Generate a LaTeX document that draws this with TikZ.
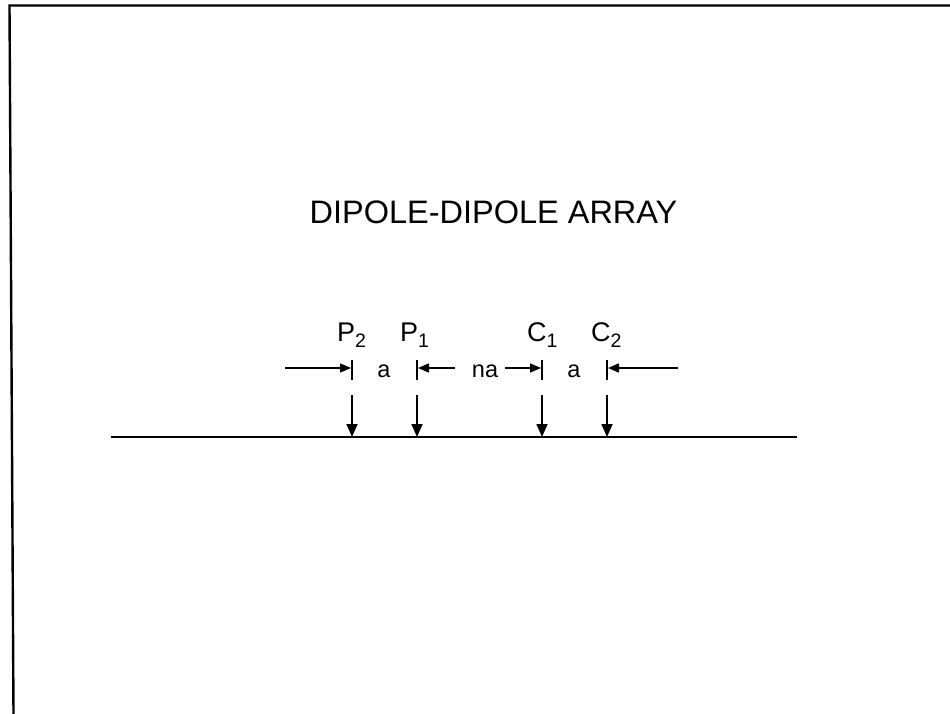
\documentclass[tikz,border=0pt]{standalone}
\usepackage{fontspec}
\setmainfont{Liberation Sans}
\usetikzlibrary{arrows.meta}
\begin{document}
\begin{tikzpicture}[x=1pt,y=-1pt,
  frameline/.style={line width=2.4pt,black},
  groundline/.style={line width=2.2pt,black},
  dimarrow/.style={line width=1.4pt,-{Triangle[length=11pt,width=9pt]}},
  probe/.style={line width=1.8pt,-{Triangle[length=13pt,width=11pt]}},
  tickmark/.style={line width=1.5pt},
  lbl/.style={inner sep=0pt,anchor=base west,font=\fontsize{27}{27}\selectfont},
  dimtext/.style={inner sep=0pt,anchor=base,font=\fontsize{23.5}{23.5}\selectfont},
  titletext/.style={inner sep=0pt,anchor=base,font=\fontsize{32.5}{32.5}\selectfont}]
\newcommand{\subsc}[1]{{\fontsize{19.5}{19.5}\selectfont\raisebox{-6pt}{#1}}}
\useasboundingbox (0,0) rectangle (950,714);
\fill[white] (0,0) rectangle (950,714);
% frame
\coordinate (ftl) at (9.5,5.5);
\coordinate (ftr) at (950,5.5);
\coordinate (fbl) at (13.5,714);
\draw[frameline] (ftr) -- (ftl) -- (fbl);
% title
\node[titletext] (title) at (493.5,223.5) {DIPOLE-DIPOLE ARRAY};
% electrode positions
\coordinate (e1) at (352,395); \coordinate (g1) at (352,437);
\coordinate (e2) at (417,395); \coordinate (g2) at (417,437);
\coordinate (e3) at (542,395); \coordinate (g3) at (542,437);
\coordinate (e4) at (607,395); \coordinate (g4) at (607,437);
% ground
\coordinate (gl) at (111,437);
\coordinate (gr) at (797,437);
\draw[groundline] (gl) -- (gr);
% probes
\draw[probe] (e1) -- (g1);
\draw[probe] (e2) -- (g2);
\draw[probe] (e3) -- (g3);
\draw[probe] (e4) -- (g4);
% labels
\node[lbl] (P2) at (337,341) {P\subsc{2}};
\node[lbl] (P1) at (400,341) {P\subsc{1}};
\node[lbl] (C1) at (527,341) {C\subsc{1}};
\node[lbl] (C2) at (591,341) {C\subsc{2}};
% ticks
\coordinate (t1a) at (352,360); \coordinate (t1b) at (352,380);
\coordinate (t2a) at (417,360); \coordinate (t2b) at (417,380);
\coordinate (t3a) at (542,360); \coordinate (t3b) at (542,380);
\coordinate (t4a) at (607,360); \coordinate (t4b) at (607,380);
\draw[tickmark] (t1a) -- (t1b);
\draw[tickmark] (t2a) -- (t2b);
\draw[tickmark] (t3a) -- (t3b);
\draw[tickmark] (t4a) -- (t4b);
% dimension arrows
\coordinate (d1s) at (285,368); \coordinate (d1e) at (351,368);
\coordinate (d2s) at (455,368); \coordinate (d2e) at (418,368);
\coordinate (d3s) at (505,368); \coordinate (d3e) at (541,368);
\coordinate (d4s) at (678,368); \coordinate (d4e) at (608,368);
\draw[dimarrow] (d1s) -- (d1e);
\draw[dimarrow] (d2s) -- (d2e);
\draw[dimarrow] (d3s) -- (d3e);
\draw[dimarrow] (d4s) -- (d4e);
% dimension texts
\node[dimtext] (a1) at (384,377.5) {a};
\node[dimtext] (na) at (485,377.5) {na};
\node[dimtext] (a2) at (574,377.5) {a};
\end{tikzpicture}
\end{document}
